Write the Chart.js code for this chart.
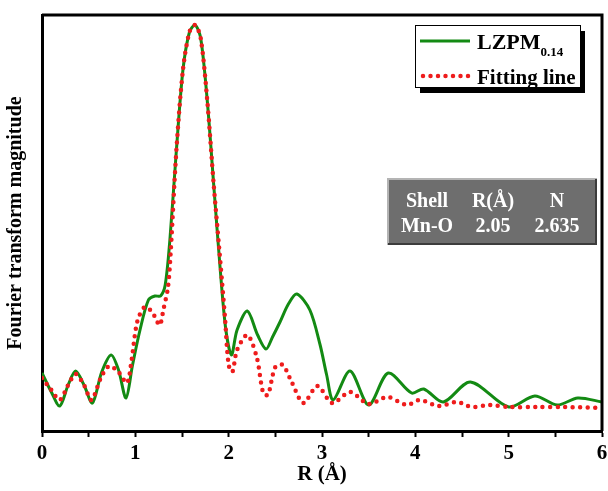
<!DOCTYPE html>
<html>
<head>
<meta charset="utf-8">
<script src="https://cdn.jsdelivr.net/npm/chart.js@4"></script>
<style>
  html, body { margin: 0; padding: 0; background: #fff; }
  #wrap { width: 608px; height: 491px; }
</style>
</head>
<body>
<div id="wrap"><canvas id="ftChart" width="608" height="491"></canvas></div>
<script>
// R values (Å) and magnitudes
const rGreen = [0.00, 0.10, 0.19, 0.28, 0.36, 0.45, 0.54, 0.64, 0.74, 0.82, 0.90, 0.97, 1.05, 1.14, 1.21, 1.27, 1.32, 1.37, 1.44, 1.51, 1.58, 1.64, 1.70, 1.77, 1.84, 1.91, 1.97, 2.03, 2.09, 2.20, 2.31, 2.40, 2.47, 2.55, 2.64, 2.73, 2.87, 2.98, 3.05, 3.12, 3.30, 3.50, 3.71, 3.96, 4.09, 4.30, 4.59, 5.00, 5.28, 5.52, 5.74, 6.00];
const magGreen = [58, 39, 25, 46, 60, 46, 28, 59, 76, 61, 33, 66, 101, 131, 135, 135, 146, 191, 281, 361, 399, 406, 393, 331, 246, 161, 101, 76, 101, 120, 96, 82, 94, 109, 127, 137, 121, 86, 56, 31, 60, 26, 58, 38, 42, 29, 49, 24, 35, 26, 33, 29];

const rFit = [0.00, 0.10, 0.19, 0.28, 0.36, 0.45, 0.53, 0.63, 0.72, 0.82, 0.91, 0.96, 1.02, 1.10, 1.18, 1.26, 1.30, 1.35, 1.38, 1.44, 1.51, 1.58, 1.64, 1.70, 1.77, 1.84, 1.90, 1.93, 1.96, 2.00, 2.04, 2.09, 2.20, 2.30, 2.37, 2.42, 2.50, 2.58, 2.68, 2.80, 2.95, 3.11, 3.30, 3.50, 3.70, 3.91, 4.05, 4.25, 4.45, 4.60, 4.80, 5.00, 5.30, 5.60, 6.00];
const magFit = [53, 41, 31, 46, 57, 46, 31, 53, 65, 59, 48, 71, 109, 124, 119, 106, 121, 144, 181, 281, 361, 399, 406, 393, 331, 246, 181, 148, 114, 66, 59, 81, 96, 74, 38, 36, 64, 66, 48, 28, 45, 28, 39, 27, 34, 26, 31, 25, 29, 24, 26, 24, 24, 24, 23];

const xTicks = [0, 1, 2, 3, 4, 5, 6];
const tableHead = ['Shell', 'R(Å)', 'N'];
const tableRow = ['Mn-O', '2.05', '2.635'];

const serif = "'Liberation Serif', 'Times New Roman', serif";

function toPoints(xs, ys) {
    return xs.map((x, i) => ({ x: x, y: ys[i] }));
}

// frame, legend box and the grey table
const extras = {
    id: 'extras',
    afterDraw(chart) {
        const c = chart.ctx;
        const a = chart.chartArea;
        c.save();

        // top and right frame
        c.strokeStyle = '#000';
        c.lineWidth = 3;
        c.beginPath();
        c.moveTo(a.left, a.top);
        c.lineTo(a.right, a.top);
        c.lineTo(a.right, a.bottom);
        c.stroke();

        // legend
        const lx = a.right - 187, ly = a.top + 10, lw = 165, lh = 62;
        c.fillStyle = '#000';
        c.fillRect(lx + 5, ly + 6, lw, lh);
        c.fillStyle = '#fff';
        c.fillRect(lx, ly, lw, lh);
        c.lineWidth = 1;
        c.strokeRect(lx + 0.5, ly + 0.5, lw, lh);

        c.strokeStyle = '#138a13';
        c.lineWidth = 3;
        c.beginPath();
        c.moveTo(lx + 5, ly + 16);
        c.lineTo(lx + 55, ly + 16);
        c.stroke();

        c.strokeStyle = '#ee1c1c';
        c.lineWidth = 4.5;
        c.lineCap = 'round';
        c.setLineDash([0, 7.5]);
        c.beginPath();
        c.moveTo(lx + 8, ly + 51);
        c.lineTo(lx + 55, ly + 51);
        c.stroke();
        c.setLineDash([]);
        c.lineCap = 'butt';

        c.fillStyle = '#000';
        c.textBaseline = 'alphabetic';
        c.textAlign = 'left';
        c.font = 'bold 22px ' + serif;
        c.fillText('LZPM', lx + 62, ly + 24);
        const w = c.measureText('LZPM').width;
        c.font = 'bold 13px ' + serif;
        c.fillText('0.14', lx + 62 + w, ly + 31);
        c.font = 'bold 21px ' + serif;
        c.fillText('Fitting line', lx + 62, ly + 59);

        // table
        const tx = a.right - 215, ty = a.top + 163, tw = 210, th = 67;
        c.fillStyle = '#6e6e6e';
        c.fillRect(tx, ty, tw, th);
        c.strokeStyle = '#b4b4b4';
        c.lineWidth = 2;
        c.beginPath();
        c.moveTo(tx + 1, ty + th);
        c.lineTo(tx + 1, ty + 1);
        c.lineTo(tx + tw, ty + 1);
        c.stroke();
        c.strokeStyle = '#3c3c3c';
        c.beginPath();
        c.moveTo(tx + tw - 1, ty + 1);
        c.lineTo(tx + tw - 1, ty + th - 1);
        c.lineTo(tx + 1, ty + th - 1);
        c.stroke();

        const cols = [tx + 40, tx + 106, tx + 170];
        c.fillStyle = '#fff';
        c.textAlign = 'center';
        c.font = 'bold 20px ' + serif;
        tableHead.forEach((t, i) => c.fillText(t, cols[i], ty + 29));
        tableRow.forEach((t, i) => c.fillText(t, cols[i], ty + 54));

        c.restore();
    }
};

new Chart(document.getElementById('ftChart'), {
    type: 'line',
    data: {
        datasets: [{
            label: 'LZPM0.14',
            data: toPoints(rGreen, magGreen),
            borderColor: '#138a13',
            borderWidth: 3,
            pointRadius: 0,
            tension: 0.3,
            order: 2
        }, {
            label: 'Fitting line',
            data: toPoints(rFit, magFit),
            borderColor: '#ee1c1c',
            borderWidth: 4.5,
            borderDash: [0, 7.5],
            borderCapStyle: 'round',
            pointRadius: 0,
            tension: 0.3,
            order: 1
        }]
    },
    options: {
        responsive: false,
        animation: false,
        layout: { padding: { top: 15, right: 6, left: 0, bottom: 0 } },
        scales: {
            x: {
                type: 'linear',
                min: 0,
                max: 6,
                border: { color: '#000', width: 3 },
                grid: {
                    drawOnChartArea: false,
                    tickLength: 6,
                    tickWidth: 2,
                    tickColor: '#000'
                },
                ticks: {
                    stepSize: 0.5,
                    autoSkip: false,
                    maxRotation: 0,
                    color: '#000',
                    padding: 4,
                    font: { family: serif, size: 21, weight: 'bold' },
                    callback: v => xTicks.includes(v) ? String(v) : ''
                },
                title: {
                    display: true,
                    text: 'R (Å)',
                    color: '#000',
                    padding: { top: 0 },
                    font: { family: serif, size: 21, weight: 'bold' }
                },
                afterFit: s => {
                    s.height = 60;
                    s.paddingLeft = 0;
                    s.paddingRight = 0;
                }
            },
            y: {
                min: 0,
                max: 416,
                border: { color: '#000', width: 3 },
                grid: { display: false },
                ticks: { display: false },
                title: {
                    display: true,
                    text: 'Fourier transform magnitude',
                    color: '#000',
                    padding: { bottom: 4 },
                    font: { family: serif, size: 20, weight: 'bold' }
                },
                afterFit: s => { s.width = 42; }
            }
        },
        plugins: {
            legend: { display: false },
            tooltip: { enabled: false }
        }
    },
    plugins: [extras]
});
</script>
</body>
</html>
